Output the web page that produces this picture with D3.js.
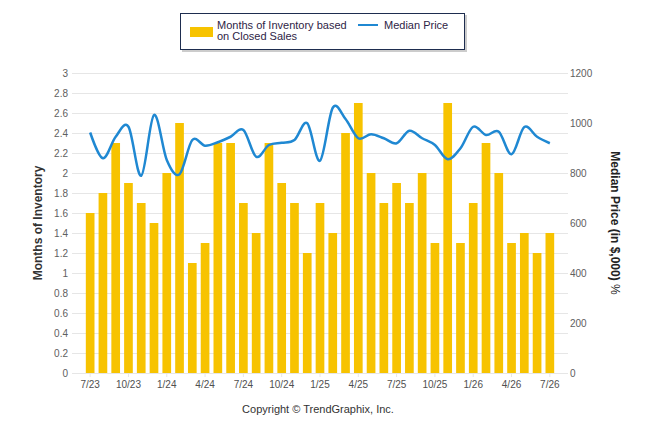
<!DOCTYPE html>
<html>
<head>
<meta charset="utf-8">
<script src="https://cdn.jsdelivr.net/npm/d3@7"></script>
<style>
  body { margin: 0; background: #fff; }
  svg { font-family: "Liberation Sans", Arial, sans-serif; }
</style>
</head>
<body>
<div id="chart"></div>
<script>
// Months (7/23 .. 7/26)
var months = ["7/23","8/23","9/23","10/23","11/23","12/23",
  "1/24","2/24","3/24","4/24","5/24","6/24","7/24","8/24","9/24","10/24","11/24","12/24",
  "1/25","2/25","3/25","4/25","5/25","6/25","7/25","8/25","9/25","10/25","11/25","12/25",
  "1/26","2/26","3/26","4/26","5/26","6/26","7/26"];

// Months of inventory (bars)
var inventory = [1.6,1.8,2.3,1.9,1.7,1.5,
  2.0,2.5,1.1,1.3,2.3,2.3,1.7,1.4,2.3,1.9,1.7,1.2,
  1.7,1.4,2.4,2.7,2.0,1.7,1.9,1.7,2.0,1.3,2.7,1.3,
  1.7,2.3,2.0,1.3,1.4,1.2,1.4];

// Median price in $000 (line)
var medianPrice = [962,859,945,985,789,1032,
  852,795,932,909,923,945,972,865,912,921,932,999,
  849,1061,1016,939,955,939,919,969,939,912,855,899,
  985,952,965,875,984,945,919];

var xLabels = ["7/23","10/23","1/24","4/24","7/24","10/24","1/25","4/25","7/25","10/25","1/26","4/26","7/26"];
var leftTicks = d3.range(0, 3.01, 0.2);
var rightTicks = [0, 200, 400, 600, 800, 1000, 1200];

var W = 646, H = 434;
var plotLeft = 77, plotRight = 563, plotTop = 73, plotBottom = 373;

var svg = d3.select("#chart").append("svg")
  .attr("width", W).attr("height", H);

var x = d3.scaleBand().domain(months).range([plotLeft, plotRight])
  .paddingInner(0.32).paddingOuter(0.69);
var yL = d3.scaleLinear().domain([0, 3]).range([plotBottom, plotTop]);
var yR = d3.scaleLinear().domain([0, 1200]).range([plotBottom, plotTop]);

// gridlines
svg.append("g").selectAll("line")
  .data(leftTicks)
  .enter().append("line")
    .attr("x1", plotLeft - 5).attr("x2", plotRight + 5)
    .attr("y1", function(d) { return Math.round(yL(d)) + 0.5; })
    .attr("y2", function(d) { return Math.round(yL(d)) + 0.5; })
    .attr("stroke", "#e6e6e6");

// left axis
var gl = svg.append("g")
  .attr("transform", "translate(" + plotLeft + ",0)")
  .call(d3.axisLeft(yL).tickValues(leftTicks).tickSize(0).tickPadding(9)
    .tickFormat(function(d) { return d3.format("~g")(+d.toFixed(1)); }));
gl.select(".domain").remove();
gl.selectAll("text").attr("fill", "#606060").style("font-size", "10px");

// right axis
var gr = svg.append("g")
  .attr("transform", "translate(" + plotRight + ",0)")
  .call(d3.axisRight(yR).tickValues(rightTicks).tickSize(0).tickPadding(7)
    .tickFormat(d3.format("d")));
gr.select(".domain").remove();
gr.selectAll("text").attr("fill", "#606060").style("font-size", "10px");

// bars
svg.append("g").selectAll("rect")
  .data(inventory)
  .enter().append("rect")
    .attr("x", function(d, i) { return x(months[i]); })
    .attr("width", x.bandwidth())
    .attr("y", function(d) { return yL(d); })
    .attr("height", function(d) { return plotBottom - yL(d); })
    .attr("fill", "#f7c300");

// median price line
var line = d3.line()
  .x(function(d, i) { return x(months[i]) + x.bandwidth() / 2; })
  .y(function(d) { return yR(d); })
  .curve(d3.curveCatmullRom.alpha(0));
svg.append("path")
  .datum(medianPrice)
  .attr("fill", "none")
  .attr("stroke", "#1f88d2")
  .attr("stroke-width", 2.5)
  .attr("d", line);

// x axis
var gx = svg.append("g")
  .attr("transform", "translate(0," + plotBottom + ")")
  .call(d3.axisBottom(x).tickValues(xLabels).tickSize(4).tickPadding(4));
gx.select(".domain").attr("stroke", "#e6e6e6")
  .attr("d", "M" + (plotLeft - 5) + ",0.5H" + (plotRight + 5));
gx.selectAll(".tick line").attr("stroke", "#e6e6e6");
gx.selectAll("text").attr("fill", "#505050").style("font-size", "10px");

// axis titles
svg.append("text")
  .attr("transform", "translate(42," + ((plotTop + plotBottom) / 2) + ") rotate(-90)")
  .attr("text-anchor", "middle")
  .attr("fill", "#333")
  .style("font-size", "12px").style("font-weight", "bold")
  .text("Months of Inventory");

var rt = svg.append("text")
  .attr("transform", "translate(611," + ((plotTop + plotBottom) / 2) + ") rotate(90)")
  .attr("text-anchor", "middle")
  .attr("fill", "#222")
  .style("font-size", "12px");
rt.append("tspan").style("font-weight", "bold").text("Median Price (in $,000)");
rt.append("tspan").text(" %");

// legend
var lg = svg.append("g");
lg.append("rect")
  .attr("x", 182).attr("y", 15).attr("width", 285).attr("height", 37)
  .attr("fill", "#ccc");
lg.append("rect")
  .attr("x", 180.5).attr("y", 13.5).attr("width", 284).attr("height", 36)
  .attr("fill", "#fff").attr("stroke", "#1e2d4f");
lg.append("rect")
  .attr("x", 190).attr("y", 27).attr("width", 23).attr("height", 10)
  .attr("fill", "#f7c300");
lg.append("text")
  .attr("x", 217).attr("y", 29)
  .attr("fill", "#2e2446").style("font-size", "11px")
  .text("Months of Inventory based");
lg.append("text")
  .attr("x", 217).attr("y", 40)
  .attr("fill", "#2e2446").style("font-size", "11px")
  .text("on Closed Sales");
lg.append("line")
  .attr("x1", 358).attr("x2", 378).attr("y1", 25).attr("y2", 25)
  .attr("stroke", "#1f88d2").attr("stroke-width", 2);
lg.append("text")
  .attr("x", 384).attr("y", 29)
  .attr("fill", "#2e2446").style("font-size", "11px")
  .text("Median Price");

// footer
svg.append("text")
  .attr("x", 318).attr("y", 413)
  .attr("text-anchor", "middle")
  .attr("fill", "#333")
  .style("font-size", "11px")
  .text("Copyright \u00A9 TrendGraphix, Inc.");
</script>
</body>
</html>
